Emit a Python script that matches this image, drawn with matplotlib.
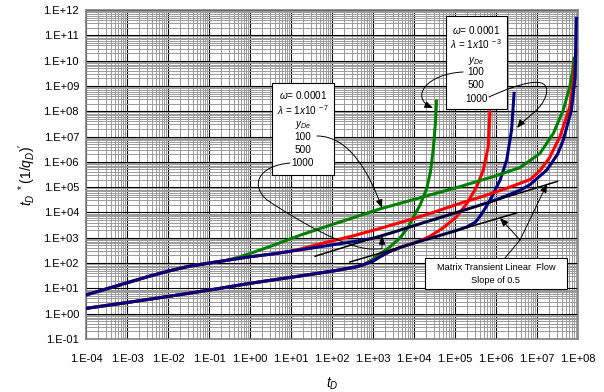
import numpy as np
import matplotlib
matplotlib.use("Agg")
import matplotlib.pyplot as plt
from matplotlib.ticker import FixedLocator, FuncFormatter, LogLocator, NullFormatter
from matplotlib.patches import FancyArrowPatch, Rectangle
from matplotlib.path import Path

plt.rcParams['font.family'] = ['Liberation Sans', 'DejaVu Sans']
plt.rcParams['mathtext.fontset'] = 'custom'
plt.rcParams['mathtext.rm'] = 'Liberation Sans'
plt.rcParams['mathtext.it'] = 'Liberation Sans:italic'
plt.rcParams['mathtext.bf'] = 'Liberation Sans:bold'

# values, as log10(tD) and log10(tD*(1/qD)')
# lambda = 1e-7 set: early part shared by the three curves
up_common_lt = [-4.0, -3.5, -3.0, -2.5, -2.0, -1.5, -1.0, -0.6]
up_common_ly = [0.74, 0.98, 1.22, 1.46, 1.68, 1.87, 2.00, 2.10]
# part shared by yDe = 500 and 1000
up_mid_lt = [0.0, 0.6, 1.0]
up_mid_ly = [2.25, 2.37, 2.47]
up_green_lt = [-0.3, 0.0, 0.5, 1.22, 2.0, 3.17, 4.39, 5.12, 6.0, 6.59, 7.07, 7.40, 7.64, 7.80, 7.87, 7.90]
up_green_ly = [2.22, 2.38, 2.66, 3.10, 3.52, 4.14, 4.69, 5.02, 5.45, 5.78, 6.33, 7.13, 8.05, 8.97, 9.63, 10.1]
up_red_lt = [1.34, 1.71, 2.5, 3.17, 4.02, 4.39, 5.12, 5.61, 6.3, 6.83, 7.07, 7.3, 7.56, 7.80, 7.90, 7.95]
up_red_ly = [2.60, 2.76, 3.07, 3.37, 3.77, 3.96, 4.36, 4.60, 4.98, 5.30, 5.65, 6.15, 7.0, 8.18, 9.36, 10.4]
up_navy_lt = [1.34, 2.0, 2.5, 3.0, 3.5, 4.02, 4.5, 5.0, 5.61, 6.0, 6.59, 6.83, 7.24, 7.5, 7.64, 7.84, 7.93, 7.96]
up_navy_ly = [2.55, 2.72, 2.84, 2.98, 3.22, 3.49, 3.73, 3.98, 4.29, 4.50, 4.88, 5.10, 5.68, 6.30, 6.86, 8.05, 9.36, 11.67]

# lambda = 1e-3 set
lo_common_lt = [-4.0, -3.0, -2.0, -1.0, 0.0, 1.22, 2.0, 2.56, 2.76]
lo_common_ly = [0.21, 0.44, 0.68, 0.93, 1.20, 1.49, 1.68, 1.84, 1.93]
lo_mid_lt = [3.0, 3.17, 3.4, 3.7, 4.0]
lo_mid_ly = [2.08, 2.25, 2.45, 2.64, 2.79]
lo_green_lt = [3.0, 3.2, 3.4, 3.66, 3.85, 3.98, 4.15, 4.31, 4.40, 4.47, 4.52, 4.55]
lo_green_ly = [2.15, 2.40, 2.62, 3.00, 3.40, 3.80, 4.30, 4.95, 5.60, 6.50, 7.50, 8.40]
lo_red_lt = [4.2, 4.39, 4.7, 5.04, 5.29, 5.53, 5.69, 5.81, 5.85]
lo_red_ly = [2.92, 3.06, 3.38, 3.83, 4.36, 5.02, 5.68, 6.60, 7.98]
lo_navy_lt = [4.2, 4.5, 5.0, 5.29, 5.5, 5.61, 5.77, 5.89, 6.10, 6.26, 6.38, 6.44]
lo_navy_ly = [2.89, 3.03, 3.27, 3.43, 3.62, 3.85, 4.25, 4.60, 5.28, 6.07, 7.26, 8.71]

# half slope straight lines
slope_up_lt = [1.585, 7.5]
slope_up_ly = [2.27, 5.23]
slope_lo_lt = [2.43, 6.5]
slope_lo_ly = [2.04, 3.98]

x_exp = list(range(-4, 9))
y_exp = list(range(-1, 13))

GREEN = '#008000'
RED = '#FF0000'
NAVY = '#000080'


def curve(*parts):
    lt = np.concatenate([p[0] for p in parts])
    ly = np.concatenate([p[1] for p in parts])
    return np.power(10.0, lt), np.power(10.0, ly)


fig = plt.figure(figsize=(6.04, 3.92), dpi=100)
ax = fig.add_axes([0.1424, 0.1352, 0.8146, 0.8393])
ax.set_xscale('log')
ax.set_yscale('log')
ax.set_xlim(10.0 ** x_exp[0], 10.0 ** x_exp[-1])
ax.set_ylim(10.0 ** y_exp[0], 10.0 ** y_exp[-1])

lw = 2.2
# lambda = 1e-3 curves
ax.plot(*curve((lo_common_lt, lo_common_ly), (lo_green_lt, lo_green_ly)), color=GREEN, lw=lw, zorder=3)
ax.plot(*curve((lo_common_lt, lo_common_ly), (lo_mid_lt, lo_mid_ly), (lo_red_lt, lo_red_ly)), color=RED, lw=lw, zorder=3)
ax.plot(*curve((lo_common_lt, lo_common_ly), (lo_mid_lt, lo_mid_ly), (lo_navy_lt, lo_navy_ly)), color=NAVY, lw=lw, zorder=3)
# lambda = 1e-7 curves
ax.plot(*curve((up_common_lt, up_common_ly), (up_green_lt, up_green_ly)), color=GREEN, lw=lw, zorder=3)
ax.plot(*curve((up_common_lt, up_common_ly), (up_mid_lt, up_mid_ly), (up_red_lt, up_red_ly)), color=RED, lw=lw, zorder=3)
ax.plot(*curve((up_common_lt, up_common_ly), (up_mid_lt, up_mid_ly), (up_navy_lt, up_navy_ly)), color=NAVY, lw=lw, zorder=3)

ax.plot(*curve((slope_up_lt, slope_up_ly)), color='black', lw=1.1, zorder=3.5)
ax.plot(*curve((slope_lo_lt, slope_lo_ly)), color='black', lw=1.1, zorder=3.5)

# axes, ticks, grid
fmt = FuncFormatter(lambda v, pos: "1.E{:+03d}".format(int(round(np.log10(v)))))
ax.xaxis.set_major_locator(FixedLocator([10.0 ** e for e in x_exp]))
ax.yaxis.set_major_locator(FixedLocator([10.0 ** e for e in y_exp]))
ax.xaxis.set_major_formatter(fmt)
ax.yaxis.set_major_formatter(fmt)
ax.xaxis.set_minor_locator(LogLocator(base=10, subs=np.arange(2, 10), numticks=100))
ax.yaxis.set_minor_locator(LogLocator(base=10, subs=np.arange(2, 10), numticks=100))
ax.xaxis.set_minor_formatter(NullFormatter())
ax.yaxis.set_minor_formatter(NullFormatter())
ax.tick_params(which='both', length=0)
ax.tick_params(axis='x', labelsize=8, pad=11)
ax.tick_params(axis='y', labelsize=8, pad=5)
ax.grid(which='minor', color='#9a9a9a', lw=0.7, zorder=1)
ax.grid(which='major', color='black', lw=0.8, zorder=1.5)
ax.set_axisbelow(True)
for s in ax.spines.values():
    s.set_color('#808080')
    s.set_linewidth(1.2)

ax.set_xlabel(r'$t_D$', fontsize=10, labelpad=8)
ax.set_ylabel(r'$t_D\ ^*(1/q_D)^{\prime}$', fontsize=10, labelpad=4)

# text boxes
def box(x0, y0, x1, y1):
    ax.add_patch(Rectangle((x0, y0), x1 - x0, y1 - y0, transform=ax.transAxes,
                           facecolor='white', edgecolor='black', lw=0.8, zorder=5))

box(0.379, 0.498, 0.505, 0.779)
box(0.731, 0.698, 0.855, 0.982)
box(0.689, 0.151, 0.977, 0.245)

def txt(x, y, s, size=7.2):
    ax.text(x, y, s, transform=ax.transAxes, ha='center', va='center', fontsize=size, zorder=6)

cx = 0.441
txt(cx, 0.742, r'$\omega$= 0.0001')
txt(cx, 0.696, r'$\lambda$ = $\mathit{1x10}^{\ -7}$')
txt(cx, 0.650, r'$y_{De}$')
txt(cx, 0.615, '100')
txt(cx, 0.574, '500')
txt(cx, 0.534, '1000')

cx = 0.793
txt(cx, 0.939, r'$\omega$= 0.0001')
txt(cx, 0.897, r'$\lambda$ = $\mathit{1x10}^{\ -3}$')
txt(cx, 0.845, r'$y_{De}$')
txt(cx, 0.812, '100')
txt(cx, 0.772, '500')
txt(cx, 0.730, '1000')

txt(0.833, 0.216, 'Matrix Transient Linear  Flow', size=6.6)
txt(0.833, 0.177, 'Slope of 0.5', size=6.6)

# leader lines
style = '-|>,head_length=0.55,head_width=0.22'
M, C, L = Path.MOVETO, Path.CURVE4, Path.LINETO

def leader(verts, codes):
    ax.add_patch(FancyArrowPatch(path=Path(verts, codes), arrowstyle=style, mutation_scale=9,
                                 lw=0.7, color='black', transform=ax.transAxes, zorder=6))

leader([(0.4695, 0.617), (0.5366, 0.617), (0.5772, 0.4985), (0.6016, 0.398)], [M, C, C, C])
leader([(0.4146, 0.535), (0.3496, 0.5258), (0.3333, 0.4681), (0.3679, 0.4225),
        (0.435, 0.3556), (0.5264, 0.2766), (0.5793, 0.2736), (0.6016, 0.2736), (0.6016, 0.313)],
       [M, C, C, C, C, C, C, L, L])
leader([(0.7663, 0.8116), (0.689, 0.8055), (0.6585, 0.7325), (0.7053, 0.7021)], [M, C, C, C])
leader([(0.8191, 0.7356), (0.872, 0.772), (0.9472, 0.8116), (0.935, 0.7416),
        (0.9268, 0.696), (0.8923, 0.6717), (0.876, 0.6413)], [M, C, C, C, C, C, C])

ax.plot([0.8516, 0.8821], [0.2462, 0.3009], transform=ax.transAxes, color='black', lw=0.7, zorder=6)
for tip in [(0.8415, 0.3678), (0.937, 0.4711)]:
    ax.add_patch(FancyArrowPatch((0.8821, 0.3009), tip, arrowstyle=style, mutation_scale=9,
                                 lw=0.7, color='black', transform=ax.transAxes,
                                 shrinkA=0, shrinkB=0, zorder=6))

fig.savefig('out.png', dpi=100)
